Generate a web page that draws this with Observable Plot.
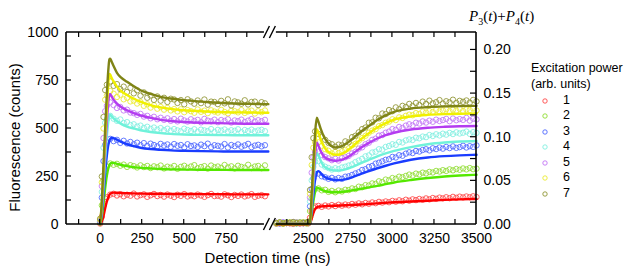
<!DOCTYPE html>
<html><head><meta charset="utf-8">
<script src="https://cdn.jsdelivr.net/npm/d3@7"></script>
<script src="https://cdn.jsdelivr.net/npm/@observablehq/plot@0.6"></script>
<style>
body{margin:0;background:#fff;}
#wrap{position:relative;width:629px;height:274px;font-family:"Liberation Sans",Arial,sans-serif;color:#000;}
#wrap svg{position:absolute;left:0;top:0;}
#p34{position:absolute;left:469px;top:9px;font-family:"Liberation Serif","Times New Roman",serif;font-size:15px;white-space:nowrap;line-height:1;}
#p34 sub{font-size:10px;vertical-align:-4px;line-height:0;}
.lg{position:absolute;font-size:12.5px;white-space:nowrap;line-height:1;}
</style></head><body><div id="wrap"></div>
<script>
// ---- categories / colours ----
const seriesNames = ["1","2","3","4","5","6","7"];
const lineColors = ["#ff0000","#55e800","#1a3cff","#70f2da","#b43cf0","#f0f000","#7f8416"];
const dotColors  = ["#ff4646","#8fdc30","#4c66ff","#80efe0","#c274f5","#eaea30","#8f9432"];

// ---- time samples (ns) ----
const timesL = [0,10,20,30,40,60,80,100,120,140,160,180,200,220,240,260,280,300,320,340,360,380,400,420,440,460,480,500,520,540,560,580,600,620,640,660,680,700,720,740,760,780,800,820,840,860,880,900,920,940,960,980];
const timesR = [2310,2330,2350,2370,2390,2410,2430,2450,2470,2490,2500,2510,2520,2530,2540,2560,2580,2600,2620,2640,2660,2680,2700,2720,2740,2760,2780,2800,2820,2840,2860,2880,2900,2920,2940,2960,2980,3000,3020,3040,3060,3080,3100,3120,3140,3160,3180,3200,3220,3240,3260,3280,3300,3320,3340,3360,3380,3400,3420,3440,3460,3480,3500];
const fitTimesL = [0,10,20,30,40,50,55,60,65,70,80,100,125,160,200,240,300,360,420,500,600,700,800,900,1000];
const fitTimesR = [2310,2400,2500,2510,2520,2530,2540,2550,2560,2575,2590,2610,2630,2660,2690,2720,2760,2810,2860,2910,2960,3010,3110,3210,3310,3400,3500];

// ---- measured counts (circles), left part ----
const dataL1 = [5,40,100,135,142,156,160,151,158,147,155,150,161,146,153,157,144,152,159,148,154,145,156,150,143,155,149,158,146,152,147,156,151,144,153,159,148,150,145,157,152,143,154,149,156,146,151,158,144,150,153,147];
const dataL2 = [10,100,230,290,303,318,311,316,306,312,300,309,304,297,308,299,305,294,303,298,307,292,301,296,305,290,300,306,295,302,309,293,299,304,291,307,298,302,295,310,297,303,292,306,300,296,311,294,302,305,293,308];
const dataL3 = [15,140,330,415,428,446,434,441,425,436,422,430,418,426,413,424,409,421,414,407,420,411,417,405,419,410,414,402,418,409,412,404,416,408,421,403,413,410,406,419,401,414,408,417,405,412,420,403,411,415,407,413];
const dataL4 = [18,170,400,530,548,566,551,540,547,529,533,518,522,510,515,503,509,498,505,494,502,491,499,488,497,490,485,499,492,487,496,483,494,490,486,497,482,493,489,495,484,491,488,496,481,492,487,494,485,490,493,486];
const dataL5 = [20,200,450,590,618,636,622,607,612,594,598,583,580,571,576,562,566,553,561,548,556,545,553,540,549,537,551,542,536,548,539,545,532,550,541,537,546,533,544,539,548,531,542,538,546,534,541,549,536,543,538,545];
const dataL6 = [25,220,500,650,672,695,681,664,676,652,660,641,645,630,638,618,626,609,621,603,612,598,607,594,601,589,600,585,596,590,582,599,587,593,580,595,588,583,597,586,579,592,590,584,596,581,589,593,578,590,585,594];
const dataL7 = [30,250,560,700,728,745,722,731,705,718,690,712,683,699,671,688,660,672,649,667,645,660,638,655,651,633,648,626,652,641,629,646,632,651,624,640,638,627,644,631,652,620,641,636,629,647,625,638,640,622,637,631];

// ---- measured counts (circles), right part ----
const dataR1 = [4,7,5,8,6,3,7,5,6,8, 6,35,70,88,94, 97,92,99,94,101,96,103,98,104,100,107,103,110,105,112,108,115,111,118,114,120,116,123,119,126,121,129,124,131,127,133,129,136,131,138,134,140,136,142,137,144,139,145,141,146,142,147,143];
const dataR2 = [6,9,5,8,10,7,6,9,8,5, 8,70,135,172,186, 188,178,181,170,175,168,177,172,181,179,188,185,197,194,205,203,214,212,225,221,234,230,242,238,249,246,253,260,255,265,261,270,266,274,271,279,276,283,279,287,282,289,285,292,287,294,288,291];
const dataR3 = [8,5,10,7,9,6,11,8,7,10, 10,95,185,240,262, 265,251,246,238,243,235,242,238,249,251,258,266,272,284,288,300,305,317,322,329,337,340,352,349,361,358,369,376,372,383,380,388,392,386,397,393,401,395,404,398,407,399,403,410,401,408,404,412];
const dataR4 = [6,9,7,11,8,10,5,9,12,7, 11,120,230,300,328, 330,312,301,294,286,293,288,297,301,307,313,325,333,342,355,360,375,379,392,390,404,409,418,415,430,427,438,443,440,452,449,458,455,466,461,470,464,473,468,477,471,480,474,478,484,472,481,477];
const dataR5 = [9,6,11,8,7,12,9,6,10,8, 12,140,270,350,378, 380,362,351,344,335,342,333,346,350,357,370,378,395,402,418,426,441,447,463,466,478,484,497,493,508,503,515,522,516,530,526,537,531,541,535,546,539,544,550,538,552,543,549,545,555,541,551,547];
const dataR6 = [7,10,5,9,11,6,10,8,12,9, 13,160,310,400,430, 428,410,392,384,370,378,372,381,388,396,412,420,437,450,462,478,489,497,512,518,530,536,548,544,558,555,566,572,569,580,576,588,583,591,586,597,589,594,600,590,598,593,603,591,599,596,605,594];
const dataR7 = [8,12,6,10,9,13,7,11,9,10, 15,180,350,450,485, 472,458,441,425,418,405,416,412,433,428,455,462,480,497,505,530,532,556,553,578,575,596,590,610,600,618,612,628,617,633,622,640,628,645,631,637,648,630,642,636,650,633,644,639,646,635,649,641];

// ---- fitted curves, left part ----
const fitL1 = [0,15,45,85,120,145,154,160,163,165,166,165,164,163,162,161,160,160,159,159,158,158,157,157,157];
const fitL2 = [0,40,110,190,255,298,309,316,320,322,321,316,310,304,299,295,292,289,287,286,285,285,284,284,284];
const fitL3 = [0,60,160,270,360,420,436,446,450,452,450,442,430,418,408,400,393,389,386,384,382,381,380,380,380];
const fitL4 = [0,80,200,340,460,545,568,572,568,562,553,538,524,510,500,491,482,476,472,469,467,466,465,465,465];
const fitL5 = [0,90,240,400,540,650,675,679,672,665,650,630,612,595,580,568,555,545,539,534,530,528,526,525,525];
const fitL6 = [0,110,280,450,610,750,784,780,770,760,745,718,695,675,655,640,622,610,602,595,590,586,584,583,582];
const fitL7 = [0,120,310,500,680,820,860,864,855,845,825,790,765,743,720,699,680,665,656,648,640,634,630,628,627];

// ---- fitted curves, right part ----
const fitR1 = [1,1,1,4,30,60,80,89,93,94,95,96,97,98,99,100,102,104,107,110,113,116,120,124,128,131,133];
const fitR2 = [2,2,2,6,60,120,170,192,190,183,177,172,169,168,169,172,178,185,193,201,210,219,232,242,250,255,259];
const fitR3 = [3,3,3,8,80,160,230,272,278,266,252,242,236,232,231,235,246,262,278,293,306,318,337,349,356,360,363];
const fitR4 = [3,3,3,10,105,210,315,372,360,330,306,293,286,281,282,287,299,318,337,355,370,383,403,418,427,432,435];
const fitR5 = [3,3,3,11,120,245,360,427,410,380,357,343,336,332,335,344,366,398,425,448,465,478,495,504,509,512,513];
const fitR6 = [3,3,3,13,140,285,420,496,478,440,410,385,372,363,366,377,405,442,475,505,528,546,563,571,575,577,578];
const fitR7 = [3,3,3,15,160,320,470,556,535,495,462,433,414,401,405,418,444,482,513,544,568,587,604,611,615,617,618];

// ---- axis ticks ----
const xLabelsLeft = [0,250,500,750];
const xLabelsRight = [2500,2750,3000,3250,3500];
const xMinorLeft = [-125,0,125,250,375,500,625,750,875];
const xMinorRight = [2375,2500,2625,2750,2875,3000,3125,3250,3375];
const yTicks = [0,250,500,750,1000];
const yMinor = [125,250,375,500,625,750,875];
const pTicks = [0,0.05,0.10,0.15,0.20];
const pMinor = [0.025,0.05,0.075,0.10,0.125,0.15,0.175,0.20];
const P_TOP = 0.22; // right axis value at 1000 counts

// ---- broken time axis ----
const T_MIN = -200, T_LEFT_END = 1000, T_RIGHT_START = 2310, T_MAX = 3500, GAP = 48;
const AXIS_LEFT_END = 977;   // where the left part of the frame line stops (ns)
const u = t => t <= T_LEFT_END ? t : t - T_RIGHT_START + T_LEFT_END + GAP;
const uInv = v => v <= T_LEFT_END ? v : v + T_RIGHT_START - T_LEFT_END - GAP;
const K = 1000 / P_TOP;

const dataLs = [dataL1,dataL2,dataL3,dataL4,dataL5,dataL6,dataL7];
const dataRs = [dataR1,dataR2,dataR3,dataR4,dataR5,dataR6,dataR7];
const fitLs = [fitL1,fitL2,fitL3,fitL4,fitL5,fitL6,fitL7];
const fitRs = [fitR1,fitR2,fitR3,fitR4,fitR5,fitR6,fitR7];

const dots = [], fits = [];
seriesNames.forEach((s, i) => {
  timesL.forEach((t, j) => dots.push({s: i, x: u(t), y: dataLs[i][j]}));
  timesR.forEach((t, j) => dots.push({s: i, x: u(t), y: dataRs[i][j]}));
  fitTimesL.forEach((t, j) => fits.push({s: i, k: i + "L", x: u(t), y: fitLs[i][j]}));
  fitTimesR.forEach((t, j) => fits.push({s: i, k: i + "R", x: u(t), y: fitRs[i][j]}));
});

function frameMark(index, scales) {
  const x = scales.x, y = scales.y;
  const top = y(1000), bot = y(0), L = x(u(T_MIN)), R = x(u(T_MAX));
  const bL = x(u(AXIS_LEFT_END)), bR = x(u(T_RIGHT_START));
  const g = d3.create("svg:g").attr("fill", "none").attr("stroke", "#000");
  const ln = (x1, y1, x2, y2, w) => g.append("line").attr("x1", x1).attr("y1", y1).attr("x2", x2).attr("y2", y2).attr("stroke-width", w);
  // frame
  ln(L, top, L, bot, 1.6); ln(R, top, R, bot, 1.6);
  [top, bot].forEach(yy => { ln(L, yy, bL, yy, 1.6); ln(bR, yy, R, yy, 1.6); });
  // break slashes
  [top, bot].forEach(yy => {
    [bL + 2.5, bR - 3.5].forEach(cx => ln(cx - 3, yy + 6, cx + 3, yy - 6, 1.4));
  });
  // x ticks (inside, top and bottom)
  [...xMinorLeft, ...xMinorRight].forEach(t => {
    const xx = x(u(t));
    ln(xx, bot, xx, bot - 5, 1.2); ln(xx, top, xx, top + 5, 1.2);
  });
  // left y ticks
  yMinor.forEach(v => ln(L, y(v), L + 5, y(v), 1.2));
  // right y ticks
  pMinor.forEach(p => ln(R, y(p * K), R - 6, y(p * K), 1.2));
  return g.node();
}

const plot = Plot.plot({
  width: 629, height: 274,
  marginLeft: 66, marginRight: 153, marginTop: 32, marginBottom: 50,
  x: {domain: [u(T_MIN), u(T_MAX)]},
  y: {domain: [0, 1000]},
  color: {type: "identity"},
  style: {fontFamily: "'Liberation Sans', Arial, sans-serif", fontSize: "14px", color: "#000", background: "transparent"},
  marks: [
    Plot.dot(dots, {x: "x", y: "y", r: 2.7, stroke: d => dotColors[d.s], strokeWidth: 0.85, fill: "none"}),
    Plot.line(fits, {x: "x", y: "y", z: "k", stroke: d => lineColors[d.s], strokeWidth: 2.4, curve: "monotone-x"}),
    frameMark,
    Plot.axisX({ticks: [...xLabelsLeft, ...xLabelsRight].map(u), tickFormat: v => String(Math.round(uInv(v))), tickSize: 0, tickPadding: 9, label: null}),
    Plot.axisY({anchor: "left", ticks: yTicks, tickFormat: v => String(v), tickSize: 0, tickPadding: 8, label: null}),
    Plot.axisY({anchor: "right", ticks: pTicks.map(p => p * K), tickFormat: v => (v / K).toFixed(2), tickSize: 0, tickPadding: 7, label: null}),
    Plot.text(["Detection time (ns)"], {frameAnchor: "bottom", dy: 38, dx: -4, fontSize: 15}),
    Plot.text(["Fluorescence (counts)"], {frameAnchor: "left", textAnchor: "middle", dx: -51, dy: 9, rotate: -90, fontSize: 15})
  ]
});

const wrap = document.getElementById("wrap");
wrap.appendChild(plot);

const p34 = document.createElement("div");
p34.id = "p34";
p34.innerHTML = "<i>P</i><sub>3</sub>(<i>t</i>)+<i>P</i><sub>4</sub>(<i>t</i>)";
wrap.appendChild(p34);

const legendTitle = ["Excitation power", "(arb. units)"];
legendTitle.forEach((txt, i) => {
  const d = document.createElement("div");
  d.className = "lg"; d.textContent = txt;
  d.style.left = "531px"; d.style.top = (62 + i * 16) + "px";
  wrap.appendChild(d);
});
seriesNames.forEach((s, i) => {
  const cy = 100.7 + i * 15.55;
  const c = document.createElementNS("http://www.w3.org/2000/svg", "svg");
  c.setAttribute("width", 8); c.setAttribute("height", 8);
  c.style.position = "absolute"; c.style.left = "541px"; c.style.top = (cy - 4) + "px";
  c.innerHTML = `<circle cx="4" cy="4" r="2.2" fill="none" stroke="${dotColors[i]}" stroke-width="0.9"/>`;
  wrap.appendChild(c);
  const d = document.createElement("div");
  d.className = "lg"; d.textContent = s;
  d.style.left = "563px"; d.style.top = (cy - 7) + "px";
  wrap.appendChild(d);
});
</script></body></html>
